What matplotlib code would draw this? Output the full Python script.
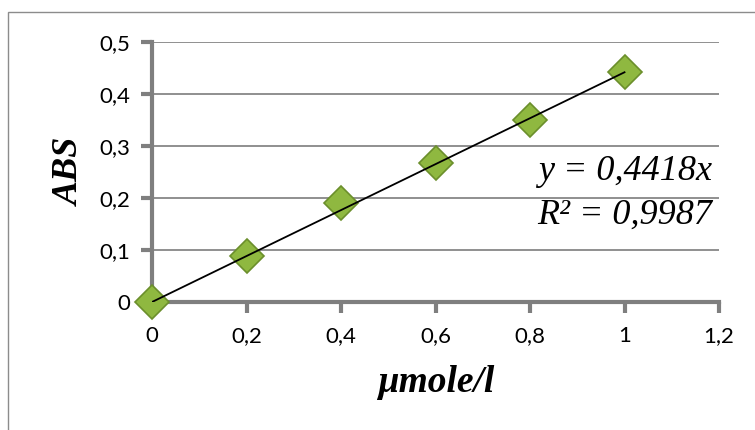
import matplotlib

matplotlib.use("Agg")
import matplotlib.pyplot as plt
from matplotlib.patches import Rectangle

GRID, AXIS, INK = "#878787", "#7f7f7f", "#000000"
FACE, EDGE = "#8fb840", "#6b8f2c"

CONC = [0, 0.2, 0.4, 0.6, 0.8, 1.0]
ABS = [0, 0.088, 0.19, 0.267, 0.35, 0.442]
SLOPE = 0.4418
R2 = 0.9987
X_TICKS = [0, 0.2, 0.4, 0.6, 0.8, 1.0, 1.2]
Y_TICKS = [0, 0.1, 0.2, 0.3, 0.4, 0.5]


def comma(v):
    return f"{v:g}".replace(".", ",")


fig = plt.figure(figsize=(7.55, 4.30), dpi=100)
fig.patch.set_facecolor("white")

# chart-area border (right and bottom are cropped off in the original)
fig.add_artist(Rectangle((8 / 755, -0.05), 1.2, 1 - 12 / 430 + 0.05,
                         transform=fig.transFigure, fill=False,
                         edgecolor="#8c8c8c", lw=1.0))

ax = fig.add_axes([152 / 755, 1 - 302 / 430, 567 / 755, 260 / 430])
ax.set_xlim(0, 1.2)
ax.set_ylim(0, 0.5)

for y in Y_TICKS[1:]:
    ax.axhline(y, color=GRID, lw=1.3, zorder=1)

# trendline through the origin
ax.plot([0, 1.0], [0, SLOPE * 1.0], color=INK, lw=1.3, zorder=4)
ax.plot(CONC, ABS, ls="none", marker="D", ms=17, mfc=FACE, mec=EDGE,
        mew=1.2, zorder=3, clip_on=False)

for s in ("top", "right"):
    ax.spines[s].set_visible(False)
for s in ("left", "bottom"):
    ax.spines[s].set_color(AXIS)
    ax.spines[s].set_linewidth(3)
ax.set_xticks(X_TICKS)
ax.set_yticks(Y_TICKS)
ax.set_xticklabels([comma(v) for v in X_TICKS])
ax.set_yticklabels([comma(v) for v in Y_TICKS])
ax.tick_params(direction="out", length=8, width=3, color=AXIS,
               labelsize=16, labelcolor=INK)
ax.tick_params(axis="x", pad=9)
ax.tick_params(axis="y", pad=8)
for lab in ax.get_xticklabels() + ax.get_yticklabels():
    lab.set_family(["Lato", "DejaVu Sans"])

ax.set_xlabel("µmole/l", family="Liberation Serif", style="italic",
              weight="bold", fontsize=27, labelpad=14)
ax.set_ylabel("ABS", family="Liberation Serif", style="italic",
              weight="bold", fontsize=26, labelpad=9)

ax.text(1.185, 0.25, f"y = {comma(SLOPE)}x", family="Liberation Serif",
        style="italic", fontsize=26, ha="right", va="center", zorder=5)
ax.text(1.185, 0.167, f"R² = {comma(R2)}", family="Liberation Serif",
        style="italic", fontsize=26, ha="right", va="center", zorder=5)

fig.savefig("out.png", dpi=100, facecolor="white")
